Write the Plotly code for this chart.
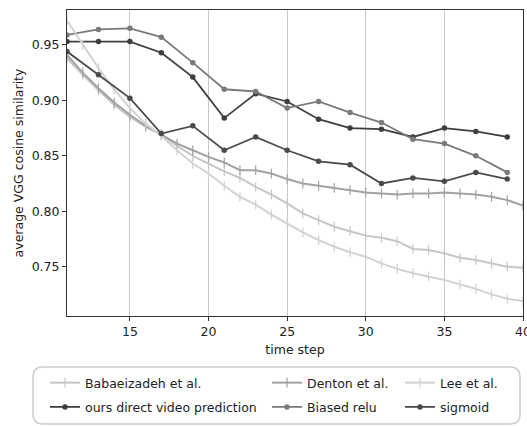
import plotly.graph_objects as go

# ---- data ----
x_dense = list(range(11, 41))
x_sparse = list(range(11, 40, 2))

babaeizadeh = [0.938, 0.923, 0.909, 0.896, 0.885, 0.876, 0.869, 0.859, 0.850, 0.843,
               0.836, 0.830, 0.822, 0.815, 0.807, 0.798, 0.792, 0.786, 0.782, 0.778,
               0.776, 0.773, 0.766, 0.765, 0.762, 0.758, 0.756, 0.753, 0.750, 0.749]
denton = [0.941, 0.925, 0.911, 0.898, 0.887, 0.877, 0.869, 0.861, 0.855, 0.849,
          0.844, 0.837, 0.837, 0.834, 0.829, 0.825, 0.823, 0.821, 0.819, 0.817,
          0.816, 0.815, 0.816, 0.816, 0.817, 0.816, 0.815, 0.813, 0.810, 0.805]
lee = [0.972, 0.950, 0.929, 0.910, 0.893, 0.879, 0.868, 0.855, 0.843, 0.834,
       0.823, 0.813, 0.806, 0.797, 0.789, 0.781, 0.774, 0.768, 0.763, 0.759,
       0.753, 0.748, 0.744, 0.741, 0.738, 0.734, 0.730, 0.725, 0.721, 0.719]

ours = [0.953, 0.953, 0.953, 0.943, 0.921, 0.884, 0.906, 0.899, 0.883, 0.875,
        0.874, 0.867, 0.875, 0.872, 0.867]
biased_relu = [0.959, 0.964, 0.965, 0.957, 0.934, 0.910, 0.908, 0.893, 0.899, 0.889,
               0.880, 0.865, 0.861, 0.850, 0.835]
sigmoid = [0.944, 0.923, 0.902, 0.870, 0.877, 0.855, 0.867, 0.855, 0.845, 0.842,
           0.825, 0.830, 0.827, 0.835, 0.829]

x_ticks = [15, 20, 25, 30, 35, 40]
y_ticks = [0.75, 0.80, 0.85, 0.90, 0.95]

FONT = "DejaVu Sans"
fig = go.Figure()

def plus_trace(x, y, name, color, legend, group):
    fig.add_trace(go.Scatter(
        x=x, y=y, name=name, mode="lines+markers", legend=legend, legendgroup=group,
        line=dict(color=color, width=2),
        marker=dict(symbol="line-ns", size=7, color=color, line=dict(color=color, width=1.2)),
    ))

def dot_trace(x, y, name, color, legend, group):
    fig.add_trace(go.Scatter(
        x=x, y=y, name=name, mode="lines+markers", legend=legend, legendgroup=group,
        line=dict(color=color, width=1.8),
        marker=dict(symbol="circle", size=5.5, color=color),
    ))

plus_trace(x_dense, babaeizadeh, "Babaeizadeh et al.", "#c6c6c6", "legend", "a")
dot_trace(x_sparse, ours, "ours direct video prediction", "#3e3e3e", "legend", "b")
plus_trace(x_dense, denton, "Denton et al.", "#a2a2a2", "legend2", "c")
dot_trace(x_sparse, biased_relu, "Biased relu", "#7a7a7a", "legend2", "d")
plus_trace(x_dense, lee, "Lee et al.", "#d2d2d2", "legend3", "e")
dot_trace(x_sparse, sigmoid, "sigmoid", "#4a4a4a", "legend3", "f")

L, R, T, B = 67, 4, 10, 110
W, H = 527, 426
pw, ph = W - L - R, H - T - B

def px_x(p):
    return (p - L) / pw

def px_y(p):
    return (H - B - p) / ph

leg_common = dict(orientation="v", yanchor="top", xanchor="left", bgcolor="rgba(0,0,0,0)",
                  borderwidth=0, tracegroupgap=5, font=dict(family=FONT, size=12.5, color="#222"),
                  itemwidth=30)
ly = px_y(368)
fig.update_layout(
    legend=dict(x=px_x(45), y=ly, **leg_common),
    legend2=dict(x=px_x(267), y=ly, **leg_common),
    legend3=dict(x=px_x(400), y=ly, **leg_common),
)

# rounded legend frame
x0, x1 = px_x(33), px_x(520)
y0, y1 = px_y(424), px_y(367)
rx, ry = 10 / pw, 10 / ph
path = (f"M {x0+rx},{y1} L {x1-rx},{y1} Q {x1},{y1} {x1},{y1-ry} "
        f"L {x1},{y0+ry} Q {x1},{y0} {x1-rx},{y0} L {x0+rx},{y0} "
        f"Q {x0},{y0} {x0},{y0+ry} L {x0},{y1-ry} Q {x0},{y1} {x0+rx},{y1} Z")
fig.add_shape(type="path", path=path, xref="paper", yref="paper",
              line=dict(color="#cccccc", width=1.5), fillcolor="rgba(255,255,255,0.8)")

axis_common = dict(showline=True, mirror=True, linecolor="#333", linewidth=1,
                   ticks="outside", ticklen=4, tickcolor="#333", zeroline=False,
                   tickfont=dict(family=FONT, size=12.5, color="#222"))
fig.update_xaxes(range=[11, 40], tickvals=x_ticks, showgrid=True, gridcolor="#c8c8c8",
                 gridwidth=1, ticklabeloverflow="allow",
                 title=dict(text="time step", font=dict(family=FONT, size=12.5, color="#222"),
                            standoff=7), **axis_common)
fig.update_yaxes(range=[0.7055, 0.9815], tickvals=y_ticks, tickformat=".2f", showgrid=False,
                 title=dict(text="average VGG cosine similarity",
                            font=dict(family=FONT, size=12.5, color="#222"), standoff=5),
                 **axis_common)

fig.update_layout(
    width=W, height=H, margin=dict(l=L, r=R, t=T, b=B, autoexpand=False),
    plot_bgcolor="white", paper_bgcolor="white",
    font=dict(family=FONT, size=12.5, color="#222"),
    showlegend=True,
)

fig.write_html("out.html", config={"displayModeBar": False},
               post_script="document.body.style.margin='0';document.body.style.padding='0';"
                           "document.body.style.overflow='hidden';")
